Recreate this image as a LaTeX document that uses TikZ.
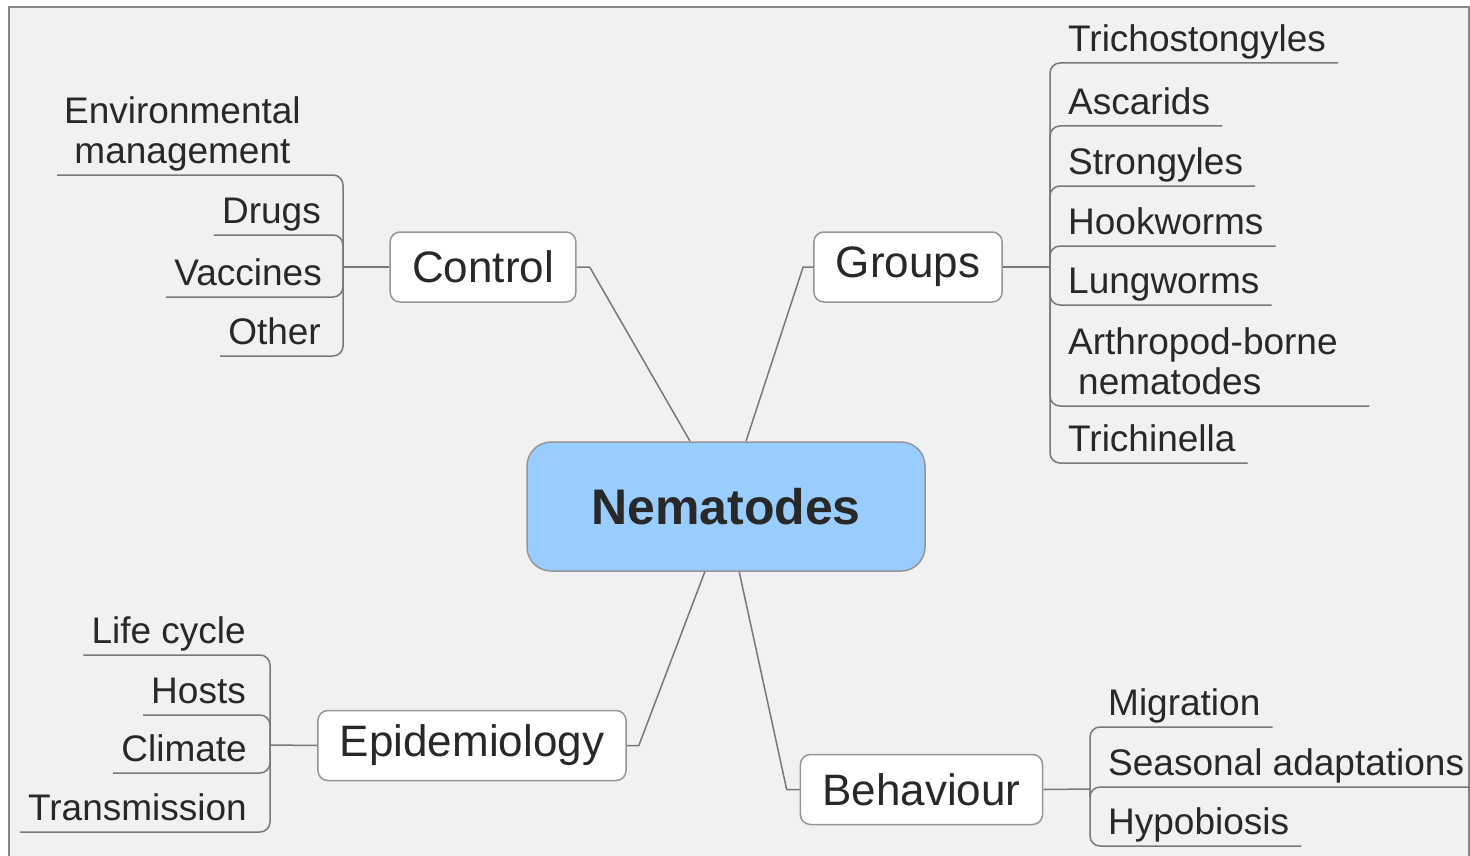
\documentclass[tikz,border=0pt]{standalone}
\usepackage{fontspec}
\setmainfont{Liberation Sans}
\usetikzlibrary{calc}
\definecolor{bgc}{RGB}{241,241,241}
\definecolor{framec}{RGB}{135,135,135}
\definecolor{linec}{RGB}{120,120,120}
\definecolor{boxc}{RGB}{150,150,150}
\definecolor{nemfill}{RGB}{153,204,255}
\definecolor{txt}{RGB}{40,40,40}
\begin{document}
\begin{tikzpicture}[x=1pt,y=-1pt,
  rootbox/.style={draw=boxc, fill=nemfill, rounded corners=24pt, line width=1.5pt,
    minimum width=398pt, minimum height=129pt, font=\fontsize{50}{56}\selectfont\bfseries, text=txt},
  branch/.style={draw=boxc, fill=white, rounded corners=10pt, line width=1.5pt,
    minimum height=70pt, inner xsep=22pt, font=\fontsize{44}{48}\selectfont, text=txt},
  leafbase/.style={inner xsep=8pt, inner ysep=11pt, font=\fontsize{37}{40}\selectfont, text=txt},
  leaf/.style={leafbase, text depth=0pt},
  leafL/.style={leaf, anchor=south east},
  leafR/.style={leaf, anchor=south west, inner xsep=12pt},
  conn/.style={draw=linec, line width=1.5pt, rounded corners=10pt},
  trunk/.style={draw=linec, line width=1.5pt}]
\useasboundingbox (0,0) rectangle (1470,856);
\clip (0,0) rectangle (1470,856);
\fill[white] (0,0) rectangle (1470,856);
\draw[draw=framec, fill=bgc, line width=2pt] (9,7) rectangle (1469,900);

% central and main branches
\node[rootbox] (nem) at (726,506.5) {Nematodes};
\node[branch] (ctrl) at (483,267) {Control};
\node[branch] (grp) at (908,267) {Groups};
\node[branch] (epi) at (472,745.5) {Epidemiology};
\node[branch] (beh) at (921.5,789.5) {Behaviour};

\draw[trunk] (ctrl.east) -- ++(13,0) -- ($(nem.north west)!0.41!(nem.north east)$);
\draw[trunk] (grp.west) -- ++(-10,0) -- ($(nem.north west)!0.55!(nem.north east)$);
\draw[trunk] (epi.east) -- ++(12,0) -- ($(nem.south west)!0.447!(nem.south east)$);
\draw[trunk] (beh.west) -- ++(-13,0) -- ($(nem.south west)!0.533!(nem.south east)$);

% Control leaves
\coordinate (cJ) at (343,267);
\node[leaf, anchor=south west, align=center, inner xsep=7pt] (env) at (57,175) {Environmental\\management};
\node[leafL] (drugs) at (329,235) {Drugs};
\node[leafL] (vacc) at (330,297) {Vaccines};
\node[leafL] (other) at (329,356) {Other};
\draw[trunk] (ctrl.west) -- (cJ);
\foreach \n in {env,drugs,vacc,other}
  \draw[conn] (cJ) -- (cJ |- \n.south) -- (\n.south west);

% Groups leaves
\coordinate (gJ) at (1050,267);
\node[leafR] (tri) at (1056,63) {Trichostongyles};
\node[leafR] (asc) at (1056,126) {Ascarids};
\node[leafR] (str) at (1056,186) {Strongyles};
\node[leafR] (hook) at (1056,246) {Hookworms};
\node[leafR] (lung) at (1056,305) {Lungworms};
\node[leafbase, anchor=south west, inner xsep=12pt, align=left, text width=289pt] (arth) at (1056,406) {Arthropod-borne\\\hspace*{10pt}nematodes};
\node[leafR] (trich) at (1056,463) {Trichinella};
\draw[trunk] (grp.east) -- (gJ);
\foreach \n in {tri,asc,str,hook,lung,arth,trich}
  \draw[conn] (gJ) -- (gJ |- \n.south) -- (\n.south east);

% Epidemiology leaves
\coordinate (eJ) at (270,745);
\node[leafL] (life) at (254,655) {Life cycle};
\node[leafL] (hosts) at (254,715) {Hosts};
\node[leafL] (clim) at (255,773) {Climate};
\node[leafL] (trans) at (255,832) {Transmission};
\draw[trunk] (epi.west) -- (eJ);
\foreach \n in {life,hosts,clim,trans}
  \draw[conn] (eJ) -- (eJ |- \n.south) -- (\n.south west);

% Behaviour leaves
\coordinate (bJ) at (1090,789);
\node[leafR] (mig) at (1096,727) {Migration};
\node[leafR] (seas) at (1096,787) {Seasonal adaptations};
\node[leafR] (hyp) at (1096,846) {Hypobiosis};
\draw[trunk] (beh.east) -- (bJ);
\foreach \n in {mig,seas,hyp}
  \draw[conn] (bJ) -- (bJ |- \n.south) -- (\n.south east);
\end{tikzpicture}
\end{document}
